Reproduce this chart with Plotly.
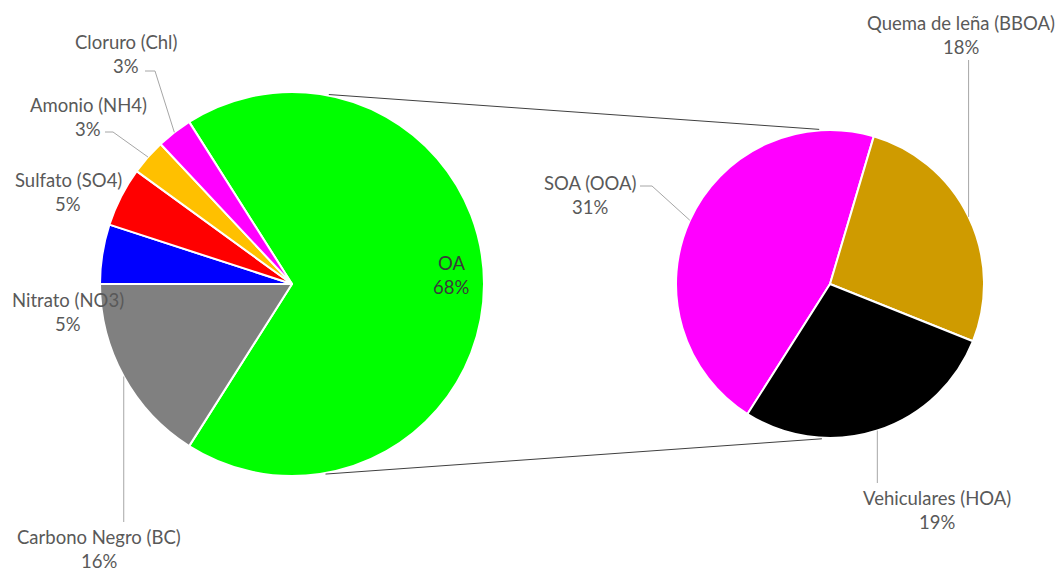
import math
import plotly.graph_objects as go

# ---------------- data ----------------
main_labels = ["OA", "Carbono Negro (BC)", "Nitrato (NO3)", "Sulfato (SO4)", "Amonio (NH4)", "Cloruro (Chl)"]
main_values = [68, 16, 5, 5, 3, 3]
main_colors = ["#00FF00", "#808080", "#0000FF", "#FF0000", "#FFC000", "#FF00FF"]

sub_labels = ["SOA (OOA)", "Quema de leña (BBOA)", "Vehiculares (HOA)"]
sub_values = [31, 18, 19]
sub_colors = ["#FF00FF", "#CF9B00", "#000000"]

# ---------------- geometry (pixels) ----------------
W, H = 1059, 571
L_CX, L_CY, L_R = 292, 284, 192
R_CX, R_CY, R_R = 830, 284, 154

L_ROT = 90 - main_values[0] / sum(main_values) * 360 / 2   # OA centred at 3 o'clock
R_ROT = -147.6


def px(x):
    return x / W


def py(y):
    return 1 - y / H


def domain(cx, cy, r):
    return dict(x=[px(cx - r), px(cx + r)], y=[py(cy + r), py(cy - r)])


def edge_point(cx, cy, r, bearing):
    a = math.radians(bearing)
    return cx + r * math.sin(a), cy - r * math.cos(a)


def anchors(values, rot, cx, cy, r):
    tot = sum(values)
    out = []
    cum = 0
    for v in values:
        mid = rot + (cum + v / 2) / tot * 360
        out.append(edge_point(cx, cy, r, mid))
        cum += v
    return out


fig = go.Figure()
fig.add_trace(go.Pie(
    labels=main_labels, values=main_values, sort=False, direction="clockwise",
    rotation=L_ROT, textinfo="none", hoverinfo="label+percent",
    marker=dict(colors=main_colors, line=dict(color="white", width=2)),
    domain=domain(L_CX, L_CY, L_R), showlegend=False,
))
fig.add_trace(go.Pie(
    labels=sub_labels, values=sub_values, sort=False, direction="clockwise",
    rotation=R_ROT, textinfo="none", hoverinfo="label",
    marker=dict(colors=sub_colors, line=dict(color="white", width=2)),
    domain=domain(R_CX, R_CY, R_R), showlegend=False,
))

L_anch = anchors(main_values, L_ROT, L_CX, L_CY, L_R)
R_anch = anchors(sub_values, R_ROT, R_CX, R_CY, R_R)

FONT = "Lato, 'Open Sans', sans-serif"
FS = 18.5
TXT = "#595959"
annotations = []
shapes = []


def add_label(name, val, x, y, color=TXT):
    annotations.append(dict(x=px(x), y=py(y), xref="paper", yref="paper", text=name,
                            showarrow=False, xanchor="center", yanchor="middle",
                            font=dict(family=FONT, size=FS, color=color)))
    annotations.append(dict(x=px(x), y=py(y + 24), xref="paper", yref="paper", text=f"{val}%",
                            showarrow=False, xanchor="center", yanchor="middle",
                            font=dict(family=FONT, size=FS, color=color)))


def add_leader(points, color="#A6A6A6"):
    d = "M " + " L ".join(f"{px(x)},{py(y)}" for x, y in points)
    shapes.append(dict(type="path", path=d, xref="paper", yref="paper",
                       line=dict(color=color, width=1)))


# label positions for main pie
main_pos = {
    "OA": (451, 263),
    "Carbono Negro (BC)": (99, 537),
    "Nitrato (NO3)": (68, 300),
    "Sulfato (SO4)": (68, 180),
    "Amonio (NH4)": (88, 105),
    "Cloruro (Chl)": (126, 42),
}
for lab, val in zip(main_labels, main_values):
    x, y = main_pos[lab]
    add_label(lab, val, x, y, color="#3A3A3A" if lab == "OA" else TXT)

sub_pos = {
    "SOA (OOA)": (590, 183),
    "Quema de leña (BBOA)": (961, 23),
    "Vehiculares (HOA)": (937, 498),
}
for lab, val in zip(sub_labels, sub_values):
    x, y = sub_pos[lab]
    add_label(lab, val, x, y)

# leader lines
ax, ay = L_anch[5]
add_leader([(145, 71), (155, 71), (ax, ay)])
ax, ay = L_anch[4]
add_leader([(105, 132), (113, 132), (ax, ay)])
ax, ay = L_anch[1]
add_leader([(ax, 522), (ax, ay)])
ax, ay = R_anch[0]
add_leader([(640, 186), (652, 186), (ax, ay)])
ax, ay = R_anch[1]
add_leader([(ax, 60), (ax, ay)])
ax, ay = R_anch[2]
add_leader([(ax, 483), (ax, ay)])

# connector lines between pies
for lb, rb in [(11, -4), (170, 183)]:
    p1 = edge_point(L_CX, L_CY, L_R + 1, lb)
    p2 = edge_point(R_CX, R_CY, R_R + 1, rb)
    add_leader([p1, p2], color="#404040")

fig.update_layout(
    width=W, height=H, margin=dict(l=0, r=0, t=0, b=0),
    paper_bgcolor="white", plot_bgcolor="white",
    annotations=annotations, shapes=shapes,
)
fig.write_html("out.html", config={"displayModeBar": False},
               post_script="document.body.style.margin='0';document.body.style.overflow='hidden';")
